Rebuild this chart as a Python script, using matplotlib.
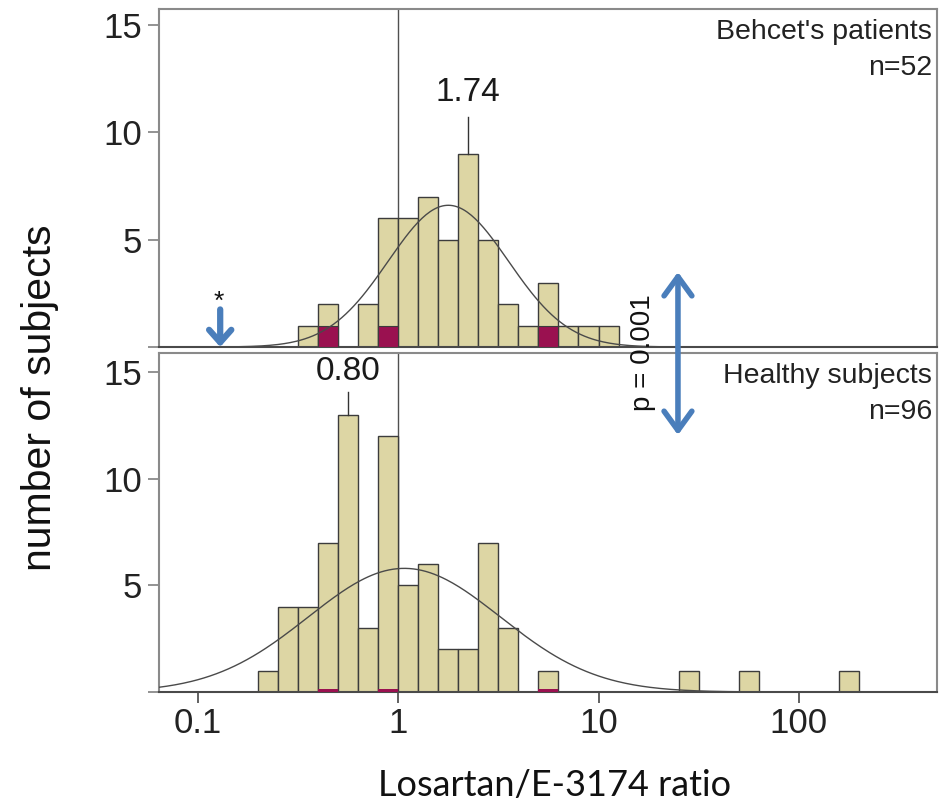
import numpy as np
import matplotlib.pyplot as plt
from matplotlib.patches import FancyArrowPatch

plt.rcParams['font.family'] = ['Liberation Sans', 'DejaVu Sans']

# histogram bins: left edge of each bin in log10(ratio), bin width 0.1 decade
behcet_bins = [-0.5, -0.4, -0.3, -0.2, -0.1, 0.0, 0.1, 0.2, 0.3, 0.4, 0.5, 0.6, 0.7, 0.8, 0.9, 1.0]
behcet_counts = [1, 2, 0, 2, 6, 6, 7, 5, 9, 5, 2, 1, 3, 1, 1, 1]
behcet_marked = [0, 1, 0, 0, 1, 0, 0, 0, 0, 0, 0, 0, 1, 0, 0, 0]

healthy_bins = [-0.7, -0.6, -0.5, -0.4, -0.3, -0.2, -0.1, 0.0, 0.1, 0.2, 0.3, 0.4, 0.5, 0.7, 1.4, 1.7, 2.2]
healthy_counts = [1, 4, 4, 7, 13, 3, 12, 5, 6, 2, 2, 7, 3, 1, 1, 1, 1]
healthy_marked = [0, 0, 0, 1, 0, 0, 1, 0, 0, 0, 0, 0, 0, 1, 0, 0, 0]

# fitted normal curves (log10 mean, log10 sd, peak height)
behcet_fit = (0.25, 0.30, 6.6)
healthy_fit = (0.03, 0.48, 5.8)

behcet_median = "1.74"
healthy_median = "0.80"

bin_w = 0.1
bar_col = '#ddd6a4'
mark_col = '#9a1150'
edge_col = '#3c3c3c'
frame_col = '#8a8a8a'
arrow_col = '#4a7ebb'

fig = plt.figure(figsize=(9.39, 8.11), dpi=100)
ax_top = fig.add_axes([0.1693, 0.5721, 0.8285, 0.4168])
ax_bot = fig.add_axes([0.1693, 0.1467, 0.8285, 0.4180])


def draw_panel(ax, bins, counts, marked, fit, mark_height, ymax):
    bins = np.array(bins)
    left = 10 ** bins
    width = 10 ** (bins + bin_w) - left
    ax.bar(left, counts, width=width, align='edge', color=bar_col,
           edgecolor=edge_col, linewidth=1.0, zorder=2)
    m = np.array(marked) > 0
    ax.bar(left[m], np.array(marked)[m] * mark_height, width=width[m], align='edge',
           color=mark_col, edgecolor=edge_col, linewidth=0.8 if mark_height > 0.5 else 0, zorder=3)

    mu, sd, peak = fit
    xs = np.linspace(-1.3, 2.8, 400)
    ax.plot(10 ** xs, peak * np.exp(-0.5 * ((xs - mu) / sd) ** 2),
            color='#4a4a4a', linewidth=1.0, zorder=4)
    ax.axvline(1, color='#505050', linewidth=1.0, zorder=1)

    ax.set_xscale('log')
    ax.set_xlim(0.0638, 490)
    ax.set_ylim(0, ymax)
    ax.set_yticks([0, 5, 10, 15])
    ax.set_yticklabels(['', '5', '10', '15'])
    ax.minorticks_off()
    for s in ax.spines.values():
        s.set_color(frame_col)
        s.set_linewidth(1.5)
    ax.spines['bottom'].set_color('#4a4a4a')
    ax.tick_params(axis='y', length=8, width=1.3, color=frame_col, pad=4,
                   labelsize=25, labelcolor='#222222')
    ax.tick_params(axis='x', length=8, width=1.3, color='#555555', pad=3,
                   labelsize=25, labelcolor='#222222')


draw_panel(ax_top, behcet_bins, behcet_counts, behcet_marked, behcet_fit, 1.0, 15.74)
draw_panel(ax_bot, healthy_bins, healthy_counts, healthy_marked, healthy_fit, 0.15, 15.9)

ax_top.set_xticks([])
ax_bot.set_xticks([0.1, 1, 10, 100])
ax_bot.set_xticklabels(['0.1', '1', '10', '100'])

# median markers above the modal bar
i = int(np.argmax(behcet_counts))
xc = 10 ** (behcet_bins[i] + bin_w / 2)
ax_top.plot([xc, xc], [behcet_counts[i], 10.72], color='#333333', linewidth=1.0)
ax_top.text(xc, 11.15, behcet_median, ha='center', va='bottom', fontsize=24,
            color='#1a1a1a')
i = int(np.argmax(healthy_counts))
xc = 10 ** (healthy_bins[i] + bin_w / 2)
ax_bot.plot([xc, xc], [healthy_counts[i], 14.05], color='#333333', linewidth=1.0)
ax_bot.text(xc, 14.3, healthy_median, ha='center', va='bottom', fontsize=24,
            color='#1a1a1a')

# group labels
for ax, name, n in [(ax_top, "Behcet's patients", 'n=52'), (ax_bot, 'Healthy subjects', 'n=96')]:
    ax.text(0.9936, 0.911, name, transform=ax.transAxes, ha='right', va='baseline',
            fontsize=20.5, color='#222222')
    ax.text(0.9936, 0.806, n, transform=ax.transAxes, ha='right', va='baseline',
            fontsize=20.5, color='#222222')

# asterisk with small arrow
ax_top.add_patch(FancyArrowPatch((0.129, 1.75), (0.129, 0.0),
                                 arrowstyle='->,head_length=0.45,head_width=0.4',
                                 mutation_scale=20, color=arrow_col, lw=4.5,
                                 shrinkA=0, shrinkB=0, zorder=5))
ax_top.text(0.127, 1.8, '*', ha='center', va='baseline', fontsize=19, color='#111111')

# significance arrow spanning both panels
fig.add_artist(FancyArrowPatch((0.722, 0.4636), (0.722, 0.6646), transform=fig.transFigure,
                               arrowstyle='<->,head_length=5.5,head_width=4',
                               color=arrow_col, lw=4, mutation_scale=2.5,
                               shrinkA=0, shrinkB=0))
fig.text(0.685, 0.5647, 'p = 0.001', rotation=90, ha='center', va='center',
         fontsize=20, color='#111111')

fig.text(0.043, 0.509, 'number of subjects', rotation=90, ha='center', va='center',
         fontsize=29.5, color='#111111')
fig.text(0.591, 0.032, 'Losartan/E-3174 ratio', ha='center', va='center',
         fontsize=26, family='Lato', color='#111111')

fig.savefig('out.png', dpi=100)
